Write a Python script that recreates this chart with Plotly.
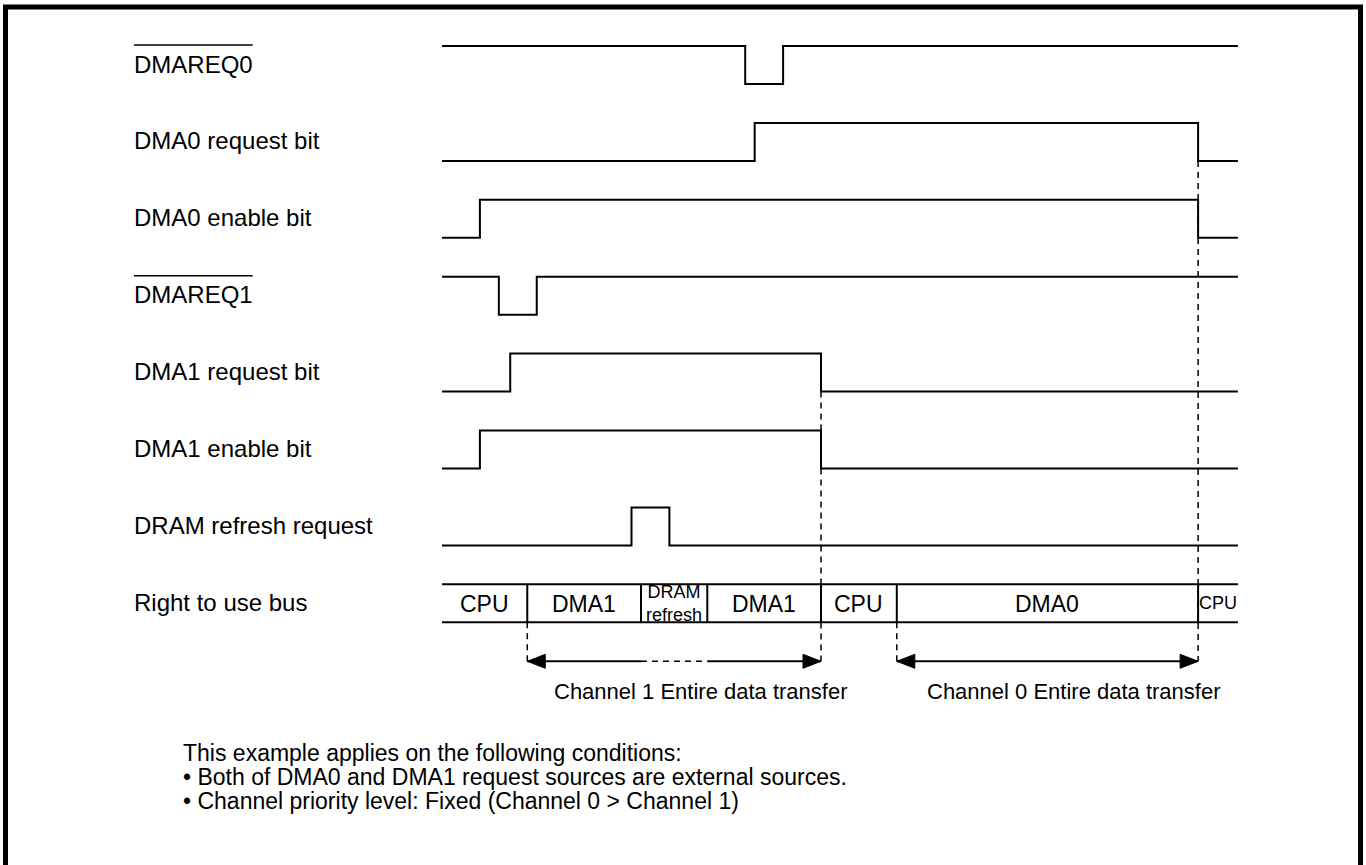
import plotly.graph_objects as go

# ---------------- data (times in arbitrary clock units) ----------------
signal_names = ["DMAREQ0", "DMA0 request bit", "DMA0 enable bit", "DMAREQ1",
                "DMA1 request bit", "DMA1 enable bit", "DRAM refresh request"]
overlined = [True, False, False, True, False, False, False]
initial_levels = [1, 0, 0, 1, 0, 0, 0]
edge_times = [[8, 9], [8.25, 19.95], [1, 19.95], [1.5, 2.5],
              [1.8, 10], [1, 10], [5, 6]]
t_start, t_end = 0, 21

bus_label = "Right to use bus"
bus_bounds = [0, 2.25, 5.25, 7, 10, 12, 19.95, 21]
bus_owners = ["CPU", "DMA1", "DRAM<br>refresh", "DMA1", "CPU", "DMA0", "CPU"]
bus_small = [False, False, True, False, False, False, True]

transfer_labels = ["Channel 1 Entire data transfer", "Channel 0 Entire data transfer"]
transfer_spans = [(2.25, 10), (12, 19.95)]
transfer_gaps = [(5.25, 7), None]

notes = ["This example applies on the following conditions:",
         "\u2022 Both of DMA0 and DMA1 request sources are external sources.",
         "\u2022 Channel priority level: Fixed (Channel 0 > Channel 1)"]

# ---------------- layout constants ----------------
W, H = 1366, 865
X0_PX = 442.0
PX_PER_T = 37.9
ROW0_Y = 46.0
ROW_PITCH = 76.9
SWING = 38.0
LABEL_X = 132
FONT = "Liberation Sans, Arial, Helvetica, sans-serif"
LABEL_SIZE = 24
BUS_SIZE = 23
SMALL_SIZE = 18
NOTE_SIZE = 23
ARIAL_W = {"D": .722, "M": .833, "A": .667, "R": .722, "E": .667, "Q": .778,
           "0": .556, "1": .556}


def row_high(i):
    return ROW0_Y + i * ROW_PITCH


def row_y(i, level):
    return row_high(i) + (0 if level else SWING)


fig = go.Figure()
solid = dict(color="black", width=2)
dashed = dict(color="black", width=1.5, dash="6px,5px")


def add_line(xs, ys, line):
    fig.add_trace(go.Scatter(x=xs, y=ys, mode="lines", line=line,
                             hoverinfo="skip", showlegend=False))


bus_row = len(signal_names)
bus_top = row_high(bus_row)
bus_bot = bus_top + SWING
arrow_y = bus_bot + 39

# dashed guide lines (drawn first)
for a, b in transfer_spans:
    for t in (a, b):
        start_y = bus_bot
        for i, edges in enumerate(edge_times):
            if any(abs(e - t) < 1e-9 for e in edges):
                start_y = row_y(i, 0)
                break
        add_line([t, t], [start_y, arrow_y], dashed)

# signal waveforms
for i, (init, edges) in enumerate(zip(initial_levels, edge_times)):
    xs, ys = [t_start], [row_y(i, init)]
    lvl = init
    for e in edges:
        xs.append(e); ys.append(row_y(i, lvl))
        lvl = 1 - lvl
        xs.append(e); ys.append(row_y(i, lvl))
    xs.append(t_end); ys.append(row_y(i, lvl))
    add_line(xs, ys, solid)

# bus row
add_line([bus_bounds[0], bus_bounds[-1]], [bus_top, bus_top], solid)
add_line([bus_bounds[0], bus_bounds[-1]], [bus_bot, bus_bot], solid)
for t in bus_bounds[1:-1]:
    add_line([t, t], [bus_top, bus_bot], solid)

annotations = []
for k, owner in enumerate(bus_owners):
    cx = (bus_bounds[k] + bus_bounds[k + 1]) / 2
    small = bus_small[k]
    annotations.append(dict(
        x=cx, y=(bus_top + bus_bot) / 2 + (0 if small else 1), xref="x", yref="y",
        text=owner, showarrow=False, xanchor="center", yanchor="middle",
        font=dict(family=FONT, size=SMALL_SIZE if small else BUS_SIZE, color="black"),
        align="center"))

# transfer arrows
HL = 18 / PX_PER_T
HH = 7
for (a, b), gap, lab in zip(transfer_spans, transfer_gaps, transfer_labels):
    if gap:
        add_line([a, gap[0]], [arrow_y, arrow_y], solid)
        add_line([gap[0], gap[1]], [arrow_y, arrow_y], dashed)
        add_line([gap[1], b], [arrow_y, arrow_y], solid)
    else:
        add_line([a, b], [arrow_y, arrow_y], solid)
    for tip, d in ((a, 1), (b, -1)):
        fig.add_trace(go.Scatter(
            x=[tip, tip + d * HL, tip + d * HL, tip],
            y=[arrow_y, arrow_y - HH, arrow_y + HH, arrow_y],
            mode="lines", fill="toself", fillcolor="black",
            line=dict(color="black", width=1), hoverinfo="skip", showlegend=False))
    annotations.append(dict(
        x=(a + b) / 2 + 0.7, y=arrow_y + 30, xref="x", yref="y", text=lab,
        showarrow=False, xanchor="center", yanchor="middle",
        font=dict(family=FONT, size=22, color="black")))

# row labels
shapes = []
all_labels = signal_names + [bus_label]
for i, name in enumerate(all_labels):
    cy = row_high(i) + SWING / 2 - 1
    annotations.append(dict(
        x=LABEL_X / W, y=cy, xref="paper", yref="y", text=name, showarrow=False,
        xanchor="left", yanchor="middle",
        font=dict(family=FONT, size=LABEL_SIZE, color="black")))
    if i < len(overlined) and overlined[i]:
        width_px = sum(ARIAL_W.get(c, .6) for c in name) * LABEL_SIZE
        x0 = (LABEL_X + 2) / W
        shapes.append(dict(type="line", xref="paper", yref="y",
                           x0=x0, x1=x0 + width_px / W,
                           y0=row_high(i) - 1, y1=row_high(i) - 1,
                           line=dict(color="black", width=1.5)))

# footnotes
for k, note in enumerate(notes):
    annotations.append(dict(
        x=181 / W, y=753 + 24 * k, xref="paper", yref="y", text=note,
        showarrow=False, xanchor="left", yanchor="middle",
        font=dict(family=FONT, size=NOTE_SIZE, color="black")))

# outer frame
shapes.append(dict(type="rect", xref="paper", yref="paper",
                   x0=5.5 / W, x1=1360.5 / W, y0=-0.05, y1=1 - 7 / H,
                   line=dict(color="black", width=5), fillcolor="rgba(0,0,0,0)"))

fig.update_layout(
    width=W, height=H, margin=dict(l=0, r=0, t=0, b=0),
    paper_bgcolor="white", plot_bgcolor="white",
    xaxis=dict(range=[(0 - X0_PX) / PX_PER_T, (W - X0_PX) / PX_PER_T],
               visible=False, showgrid=False, zeroline=False, fixedrange=True),
    yaxis=dict(range=[H, 0], visible=False, showgrid=False, zeroline=False,
               fixedrange=True),
    annotations=annotations, shapes=shapes, showlegend=False,
)

fig.write_html("out.html", config={"displayModeBar": False},
               post_script="document.body.style.margin='0';"
                           "document.body.style.overflow='hidden';")
